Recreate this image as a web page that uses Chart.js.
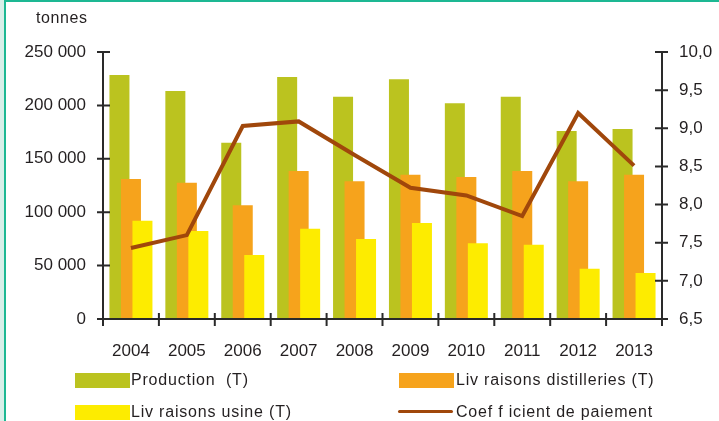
<!DOCTYPE html>
<html>
<head>
<meta charset="utf-8">
<script src="https://cdn.jsdelivr.net/npm/chart.js@4/dist/chart.umd.min.js"></script>
<style>
  body { margin: 0; background: #fff; }
  #wrap { position: relative; width: 719px; height: 421px; overflow: hidden; font-family: "Liberation Sans", Arial, sans-serif; color: #231f20; }
  #edge { position: absolute; left: 0; top: 0; width: 4px; height: 421px; background: #d8efe9; }
  #frame { position: absolute; left: 4px; top: 0; width: 715px; height: 421px; border-left: 2px solid #1db893; border-top: 2px solid #1db893; box-sizing: border-box; }
  canvas { position: absolute; left: 0; top: 0; }
  .unit { position: absolute; left: 36px; top: 10px; font-size: 16px; line-height: 16px; letter-spacing: 0.6px; }
  .leg { position: absolute; font-size: 16px; line-height: 16px; letter-spacing: 0.8px; white-space: pre; }
  .sw { position: absolute; width: 55px; height: 15px; }
</style>
</head>
<body>
<div id="wrap">
  <div id="edge"></div>
  <div id="frame"></div>
  <canvas id="chart" width="719" height="421"></canvas>
  <div class="unit">tonnes</div>

  <div class="sw" style="left:75px;top:373px;background:#bbc31f"></div>
  <div class="leg" style="left:131px;top:372px">Production  (T)</div>
  <div class="sw" style="left:399px;top:373px;background:#f6a31c"></div>
  <div class="leg" style="left:456px;top:372px">Liv raisons distilleries (T)</div>

  <div class="sw" style="left:75px;top:405px;background:#fdec00"></div>
  <div class="leg" style="left:131px;top:404px">Liv raisons usine (T)</div>
  <div style="position:absolute;left:398px;top:410px;width:55px;height:3px;background:#a0470b;border-radius:2px"></div>
  <div class="leg" style="left:456px;top:404px">Coef f icient de paiement</div>
</div>
<script>
const years = ["2004", "2005", "2006", "2007", "2008", "2009", "2010", "2011", "2012", "2013"];
const production = [228500, 213500, 165000, 226500, 208000, 224500, 202000, 208000, 176000, 178000];
const livDistilleries = [131000, 127500, 106500, 138500, 129000, 135000, 133000, 138500, 129000, 135000];
const livUsine = [92000, 82500, 60000, 84500, 75000, 90000, 71000, 69500, 47000, 43000];
const coefficient = [7.43, 7.60, 9.03, 9.09, 8.65, 8.22, 8.12, 7.85, 9.20, 8.51];

const textColor = "#231f20";
const axisColor = "#2a2a2a";

function fmtThousands(v) {
  return String(v).replace(/\B(?=(\d{3})+(?!\d))/g, " ");
}

// bars are drawn by hand in index order so that each one sits on top of the previous
const drawOrder = {
  id: "drawOrder",
  beforeDatasetDraw() {
    return false;
  },
  afterDatasetsDraw(chart) {
    chart.data.datasets.forEach((d, i) => chart.getDatasetMeta(i).controller.draw());

    const ctx = chart.ctx;
    const { left, right, top, bottom } = chart.chartArea;
    const x = chart.scales.x;
    const y = chart.scales.y;
    const y1 = chart.scales.y1;

    ctx.save();
    ctx.strokeStyle = axisColor;
    ctx.lineWidth = 2;
    ctx.beginPath();
    ctx.moveTo(left, top);
    ctx.lineTo(left, bottom + 7);
    ctx.moveTo(right, top);
    ctx.lineTo(right, bottom + 7);
    ctx.moveTo(left - 6, bottom);
    ctx.lineTo(right + 6, bottom);

    y.ticks.forEach(t => {
      const py = y.getPixelForValue(t.value);
      ctx.moveTo(left - 6, py);
      ctx.lineTo(left + 7, py);
    });
    y1.ticks.forEach(t => {
      const py = y1.getPixelForValue(t.value);
      ctx.moveTo(right - 7, py);
      ctx.lineTo(right + 6, py);
    });
    for (let i = 0; i <= years.length; i++) {
      const px = x.getPixelForValue(i - 0.5);
      ctx.moveTo(px, bottom - 6);
      ctx.lineTo(px, bottom + 7);
    }
    ctx.stroke();
    ctx.restore();
  }
};

const tickFont = { family: "Liberation Sans", size: 17 };

new Chart(document.getElementById("chart").getContext("2d"), {
  type: "bar",
  data: {
    labels: years,
    datasets: [
      { label: "Production  (T)", data: production, backgroundColor: "#bbc31f", yAxisID: "y" },
      { label: "Liv raisons distilleries (T)", data: livDistilleries, backgroundColor: "#f6a31c", yAxisID: "y" },
      { label: "Liv raisons usine (T)", data: livUsine, backgroundColor: "#fdec00", yAxisID: "y" },
      {
        type: "line",
        label: "Coef f icient de paiement",
        data: coefficient,
        borderColor: "#a0470b",
        borderWidth: 4,
        pointRadius: 0,
        tension: 0,
        yAxisID: "y1"
      }
    ]
  },
  options: {
    responsive: false,
    animation: false,
    categoryPercentage: 0.617,
    barPercentage: 1.74,
    layout: { padding: { top: 52, bottom: 42, left: 0, right: 0 } },
    plugins: {
      legend: { display: false },
      tooltip: { enabled: false }
    },
    scales: {
      x: {
        offset: true,
        grid: { display: false, drawTicks: false },
        border: { display: false },
        ticks: { color: textColor, font: tickFont, padding: 22, maxRotation: 0 },
        afterFit: s => { s.height = 60; }
      },
      y: {
        position: "left",
        min: 0,
        max: 250000,
        grid: { display: false, drawTicks: false },
        border: { display: false },
        ticks: {
          stepSize: 50000,
          padding: 17,
          color: textColor,
          font: tickFont,
          callback: v => fmtThousands(v)
        },
        afterFit: s => { s.width = 103; }
      },
      y1: {
        position: "right",
        min: 6.5,
        max: 10,
        grid: { display: false, drawTicks: false },
        border: { display: false },
        ticks: {
          stepSize: 0.5,
          padding: 17,
          color: textColor,
          font: tickFont,
          callback: v => v.toFixed(1).replace(".", ",")
        },
        afterFit: s => { s.width = 57; }
      }
    }
  },
  plugins: [drawOrder]
});
</script>
</body>
</html>
